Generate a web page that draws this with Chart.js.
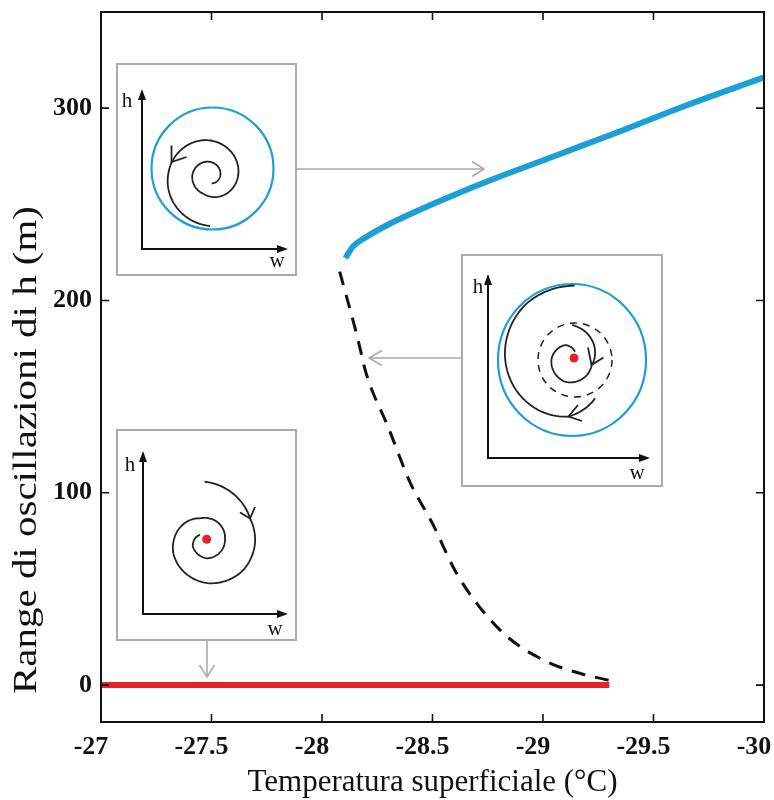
<!DOCTYPE html>
<html>
<head>
<meta charset="utf-8">
<script src="https://cdn.jsdelivr.net/npm/chart.js@4/dist/chart.umd.min.js"></script>
<style>
  body { margin: 0; background: #fff; }
  canvas { display: block; }
</style>
</head>
<body>
<canvas id="chart" width="774" height="800"></canvas>
<script>
// temperatura superficiale (°C) / range di oscillazioni di h (m)
const stableX = [-28.106, -28.14, -28.20, -28.30, -28.40, -28.60, -28.75, -29.05, -29.35, -29.65, -30.0];
const stableY = [222, 228, 233, 239.5, 245, 255, 262, 275, 288, 301.5, 316];

const unstableX = [-28.08, -28.16, -28.20, -28.30, -28.40, -28.50, -28.60, -28.70, -28.84, -29.02, -29.17, -29.30];
const unstableY = [215, 181, 162, 134, 105, 84, 60, 42.5, 25, 12, 6, 2.5];

const equilibriumX = [-27, -29.3];
const equilibriumY = [0, 0];

const xTicks = [-27, -27.5, -28, -28.5, -29, -29.5, -30];
const xTickLabels = ['-27', '-27.5', '-28', '-28.5', '-29', '-29.5', '-30'];
const yTicks = [0, 100, 200, 300];
const yTickLabels = ['0', '100', '200', '300'];

const xTitle = 'Temperatura superficiale (°C)';
const yTitle = 'Range di oscillazioni di h (m)';

const BLUE = '#1b9fd8';
const RED = '#e8202a';
const GREY = '#ababab';

function toPoints(xs, ys) {
    return xs.map((x, i) => ({ x: x, y: ys[i] }));
}

// spiral through keyframes [angleDeg, radius] around (cx, cy)
function spiral(ctx, cx, cy, keys) {
    ctx.beginPath();
    for (let k = 0; k < keys.length - 1; k++) {
        const a0 = keys[k][0], r0 = keys[k][1], a1 = keys[k + 1][0], r1 = keys[k + 1][1];
        const n = Math.max(2, Math.ceil(Math.abs(a1 - a0) / 3));
        for (let i = (k ? 1 : 0); i <= n; i++) {
            const t = i / n;
            const a = (a0 + (a1 - a0) * t) * Math.PI / 180;
            const r = r0 + (r1 - r0) * t;
            const px = cx + r * Math.cos(a), py = cy + r * Math.sin(a);
            if (k === 0 && i === 0) ctx.moveTo(px, py); else ctx.lineTo(px, py);
        }
    }
    ctx.stroke();
}

function openHead(ctx, tip, a, b) {
    ctx.beginPath();
    ctx.moveTo(a[0], a[1]);
    ctx.lineTo(tip[0], tip[1]);
    ctx.lineTo(b[0], b[1]);
    ctx.stroke();
}

function phaseAxes(ctx, ox, oy, topY, rightX, hPos, wPos) {
    ctx.save();
    ctx.strokeStyle = '#111';
    ctx.fillStyle = '#111';
    ctx.lineWidth = 2;
    ctx.beginPath();
    ctx.moveTo(ox, topY + 8);
    ctx.lineTo(ox, oy);
    ctx.lineTo(rightX - 8, oy);
    ctx.stroke();
    ctx.beginPath();
    ctx.moveTo(ox, topY); ctx.lineTo(ox - 4, topY + 11); ctx.lineTo(ox + 4, topY + 11); ctx.closePath();
    ctx.fill();
    ctx.beginPath();
    ctx.moveTo(rightX, oy); ctx.lineTo(rightX - 11, oy - 4); ctx.lineTo(rightX - 11, oy + 4); ctx.closePath();
    ctx.fill();
    ctx.font = '21px "Liberation Serif"';
    ctx.textAlign = 'center';
    ctx.textBaseline = 'middle';
    ctx.fillText('h', hPos[0], hPos[1]);
    ctx.fillText('w', wPos[0], wPos[1]);
    ctx.restore();
}

function dot(ctx, x, y) {
    ctx.save();
    ctx.fillStyle = RED;
    ctx.beginPath();
    ctx.arc(x, y, 4.5, 0, Math.PI * 2);
    ctx.fill();
    ctx.restore();
}

const insetsPlugin = {
    id: 'insets',
    afterDatasetsDraw(chart) {
        const ctx = chart.ctx;
        ctx.save();
        ctx.lineCap = 'butt';

        // boxes
        ctx.fillStyle = '#fff';
        ctx.strokeStyle = GREY;
        ctx.lineWidth = 2;
        [[117, 64, 179, 211], [462, 255, 200, 231], [117, 430, 179, 210]].forEach(b => {
            ctx.fillRect(b[0], b[1], b[2], b[3]);
            ctx.strokeRect(b[0], b[1], b[2], b[3]);
        });

        // grey pointers
        ctx.lineWidth = 1.6;
        ctx.beginPath();
        ctx.moveTo(296, 169); ctx.lineTo(483, 169);
        ctx.moveTo(462, 358); ctx.lineTo(370, 358);
        ctx.moveTo(207, 640); ctx.lineTo(207, 676);
        ctx.stroke();
        openHead(ctx, [484, 169], [472, 161.5], [472, 176.5]);
        openHead(ctx, [369, 358], [382, 350.5], [382, 365.5]);
        openHead(ctx, [207, 677], [199.5, 665], [214.5, 665]);

        // inset 1: stable limit cycle
        phaseAxes(ctx, 142, 249, 89, 288, [127, 101], [277, 261]);
        ctx.strokeStyle = BLUE;
        ctx.lineWidth = 2.2;
        ctx.beginPath();
        ctx.arc(212.5, 168.5, 61, 0, Math.PI * 2);
        ctx.stroke();
        ctx.strokeStyle = '#222';
        ctx.lineWidth = 1.8;
        spiral(ctx, 210, 176, [[77, 7.5], [4, 10], [-103, 14.7], [-177, 17.7], [-251, 19], [-365, 28.5], [-455, 36], [-536, 41.7], [-630, 50]]);
        openHead(ctx, [171.5, 162], [171.5, 145.5], [186.5, 157]);

        // inset 2: bistable region
        phaseAxes(ctx, 488, 458, 274, 650, [478, 287], [637, 473]);
        ctx.strokeStyle = BLUE;
        ctx.lineWidth = 2.2;
        ctx.beginPath();
        ctx.ellipse(572, 360, 74, 76, 0, 0, Math.PI * 2);
        ctx.stroke();
        ctx.strokeStyle = '#222';
        ctx.lineWidth = 1.5;
        ctx.setLineDash([7, 6]);
        ctx.beginPath();
        ctx.arc(575, 360, 37, 0, Math.PI * 2);
        ctx.stroke();
        ctx.setLineDash([]);
        ctx.lineWidth = 1.8;
        spiral(ctx, 572, 360, [[-90, 35], [-20, 24.5], [14, 20.3], [108, 22.8], [185, 20.4], [245, 16.5], [290, 8.8]]);
        openHead(ctx, [591.5, 365], [588, 347.5], [603.5, 357.5]);
        spiral(ctx, 572, 360, [[59, 44.7], [94, 56.8], [184, 67.2], [229.5, 72.3], [272, 74.4]]);
        openHead(ctx, [568.5, 416.5], [582, 421], [578, 405]);
        dot(ctx, 574, 358);

        // inset 3: stable equilibrium
        phaseAxes(ctx, 143, 614, 451, 288, [130, 465], [275, 629]);
        ctx.strokeStyle = '#222';
        ctx.lineWidth = 1.8;
        spiral(ctx, 206.7, 539.3, [[-92, 57.6], [-55, 52], [-26, 48.1], [5, 48.5], [40, 47.8], [86, 44.1], [157, 36.2], [252, 22], [357, 18.3], [450, 19], [514, 15.5], [573, 8]]);
        openHead(ctx, [250, 518.5], [240, 512.5], [255, 507]);
        dot(ctx, 206.7, 539.3);

        ctx.restore();
    }
};

const framePlugin = {
    id: 'frame',
    afterDraw(chart) {
        const ctx = chart.ctx;
        const a = chart.chartArea;
        const xs = chart.scales.x, ys = chart.scales.y;
        ctx.save();
        ctx.strokeStyle = '#111';
        ctx.lineWidth = 2;
        ctx.strokeRect(a.left, a.top, a.right - a.left, a.bottom - a.top);
        ctx.lineWidth = 1.6;
        ctx.beginPath();
        xTicks.forEach(v => {
            const px = xs.getPixelForValue(v);
            ctx.moveTo(px, a.bottom); ctx.lineTo(px, a.bottom - 8);
            ctx.moveTo(px, a.top); ctx.lineTo(px, a.top + 8);
        });
        yTicks.forEach(v => {
            const py = ys.getPixelForValue(v);
            ctx.moveTo(a.left, py); ctx.lineTo(a.left + 8, py);
            ctx.moveTo(a.right, py); ctx.lineTo(a.right - 8, py);
        });
        ctx.stroke();

        // axis titles
        ctx.fillStyle = '#111';
        ctx.font = '31px "Liberation Serif"';
        ctx.textAlign = 'center';
        ctx.textBaseline = 'alphabetic';
        ctx.fillText(xTitle, (a.left + a.right) / 2, 791);

        ctx.translate(36, 450);
        ctx.rotate(-Math.PI / 2);
        ctx.font = '33px "Liberation Serif"';
        const w = ctx.measureText(yTitle).width;
        ctx.scale(488 / w, 1);
        ctx.fillText(yTitle, 0, 0);
        ctx.restore();
    }
};

const tickFont = { family: '"Liberation Serif"', size: 26, weight: 'bold' };

new Chart(document.getElementById('chart').getContext('2d'), {
    type: 'line',
    data: {
        datasets: [
            {
                data: toPoints(equilibriumX, equilibriumY),
                borderColor: RED,
                borderWidth: 6,
                pointRadius: 0,
                tension: 0
            },
            {
                data: toPoints(unstableX, unstableY),
                borderColor: '#111',
                borderWidth: 3,
                borderDash: [14, 10],
                pointRadius: 0,
                cubicInterpolationMode: 'monotone'
            },
            {
                data: toPoints(stableX, stableY),
                borderColor: BLUE,
                borderWidth: 6,
                pointRadius: 0,
                cubicInterpolationMode: 'monotone'
            }
        ]
    },
    options: {
        responsive: false,
        devicePixelRatio: 1,
        animation: false,
        layout: { padding: { top: 12, right: 10, left: 0, bottom: 0 } },
        plugins: { legend: { display: false }, tooltip: { enabled: false } },
        scales: {
            x: {
                type: 'linear',
                min: -30,
                max: -27,
                reverse: true,
                grid: { display: false, drawTicks: false },
                border: { display: false },
                afterBuildTicks: s => { s.ticks = xTicks.map(v => ({ value: v })); },
                afterFit: s => { s.height = 78; s.paddingLeft = 0; s.paddingRight = 0; },
                ticks: {
                    color: '#111',
                    font: tickFont,
                    padding: 10,
                    labelOffset: -10,
                    maxRotation: 0,
                    callback: (v) => xTickLabels[xTicks.indexOf(v)]
                }
            },
            y: {
                type: 'linear',
                min: -19.2,
                max: 350,
                grid: { display: false, drawTicks: false },
                border: { display: false },
                afterBuildTicks: s => { s.ticks = yTicks.map(v => ({ value: v })); },
                afterFit: s => { s.width = 101; s.paddingTop = 0; s.paddingBottom = 0; },
                ticks: {
                    color: '#111',
                    font: tickFont,
                    padding: 9,
                    callback: (v) => yTickLabels[yTicks.indexOf(v)]
                }
            }
        }
    },
    plugins: [insetsPlugin, framePlugin]
});
</script>
</body>
</html>
